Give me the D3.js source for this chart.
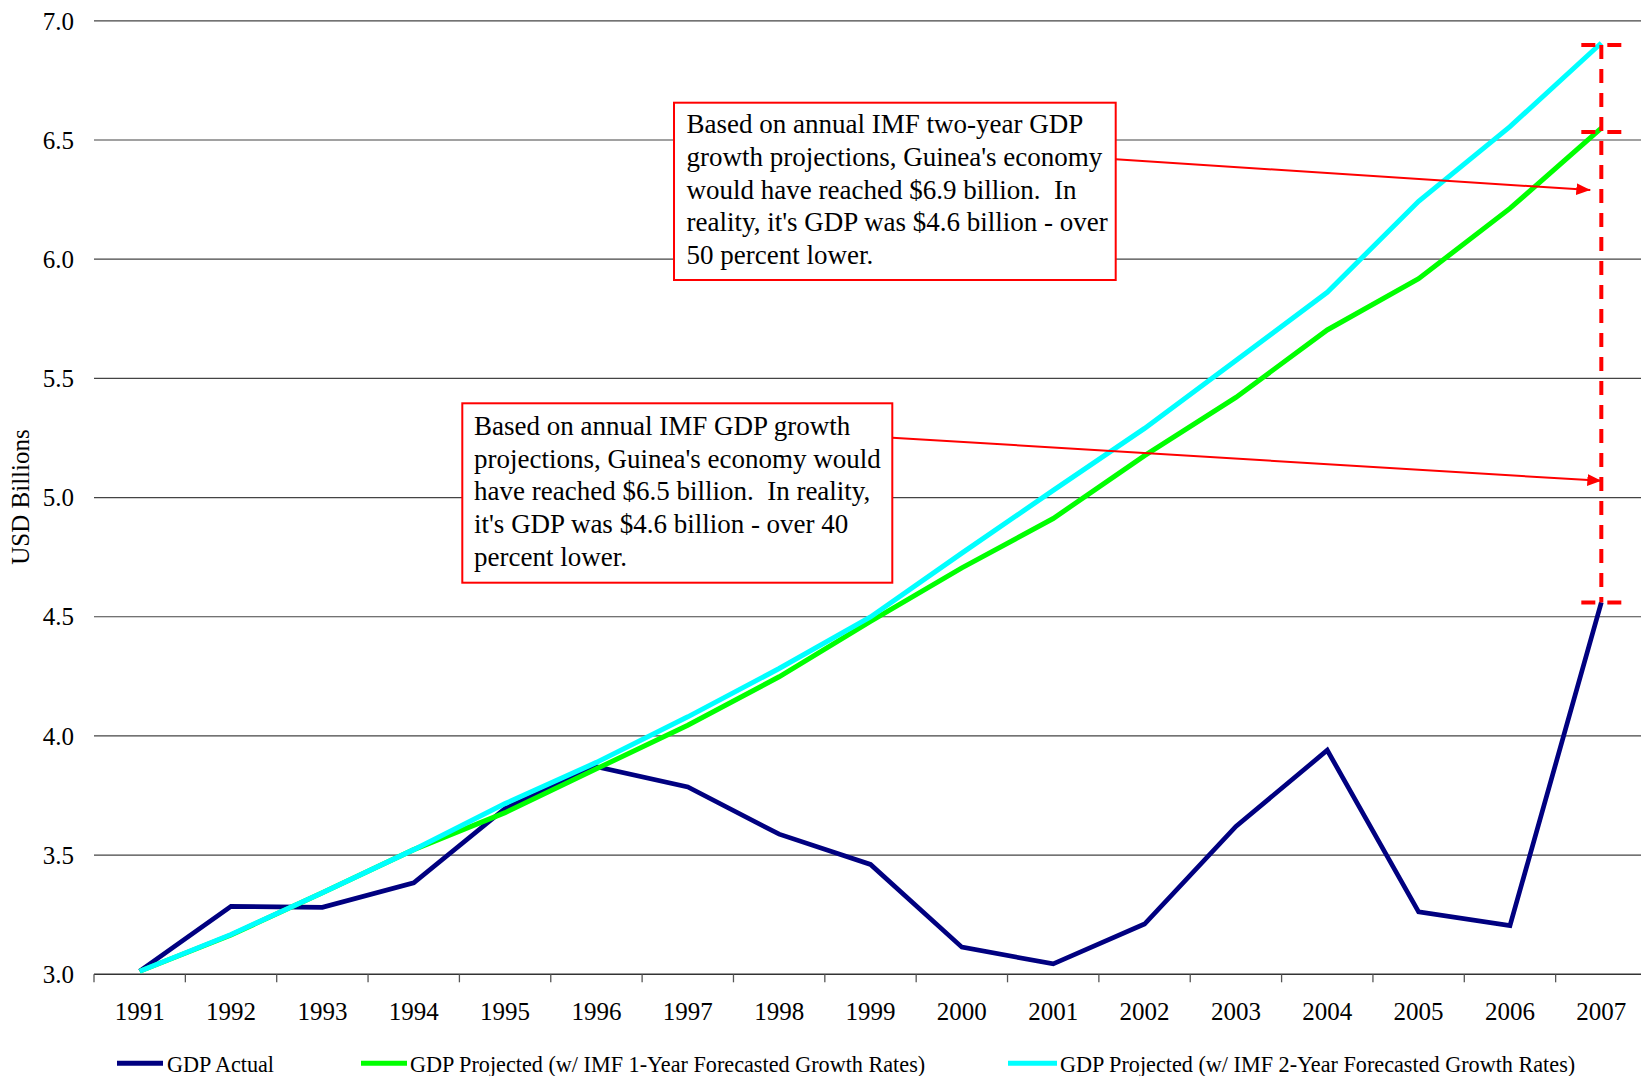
<!DOCTYPE html>
<html>
<head>
<meta charset="utf-8">
<script src="https://cdn.jsdelivr.net/npm/d3@7"></script>
<style>
  html, body { margin: 0; padding: 0; background: #fff; }
  svg { display: block; font-family: "Liberation Serif", "Times New Roman", serif; }
</style>
</head>
<body>
<svg id="chart" width="1641" height="1076"></svg>
<script>
// ---- Data ----
const years = [1991,1992,1993,1994,1995,1996,1997,1998,1999,2000,2001,2002,2003,2004,2005,2006,2007];
const gdpActual = [3.013,3.285,3.281,3.384,3.696,3.871,3.786,3.588,3.461,3.114,3.044,3.211,3.620,3.940,3.262,3.204,4.560];
const gdpProj1 = [3.013,3.165,3.342,3.523,3.678,3.862,4.045,4.248,4.481,4.705,4.912,5.176,5.420,5.703,5.918,6.213,6.550];
const gdpProj2 = [3.013,3.167,3.342,3.523,3.716,3.889,4.080,4.283,4.499,4.767,5.030,5.290,5.575,5.861,6.243,6.556,6.907];
const yTicks = [3.0,3.5,4.0,4.5,5.0,5.5,6.0,6.5,7.0];
const seriesNames = ["GDP Actual","GDP Projected (w/ IMF 1-Year Forecasted Growth Rates)","GDP Projected (w/ IMF 2-Year Forecasted Growth Rates)"];
const note1 = ["Based on annual IMF two-year GDP","growth projections, Guinea's economy","would have reached $6.9 billion.  In","reality, it's GDP was $4.6 billion - over","50 percent lower."];
const note2 = ["Based on annual IMF GDP growth","projections, Guinea's economy would","have reached $6.5 billion.  In reality,","it's GDP was $4.6 billion - over 40","percent lower."];

// ---- Layout ----
const svg = d3.select("#chart");
const pLeft = 94, pRight = 1647, pTop = 20.8, pBottom = 974.3;
const x = d3.scaleBand().domain(years).range([pLeft, pRight]).padding(0);
const y = d3.scaleLinear().domain([3, 7]).range([pBottom, pTop]);
const cx = d => x(d) + x.bandwidth() / 2;

// gridlines
svg.append("g").selectAll("line").data(yTicks.filter(v => v > 3)).join("line")
  .attr("x1", pLeft).attr("x2", pRight)
  .attr("y1", d => y(d)).attr("y2", d => y(d))
  .attr("stroke", "#444").attr("stroke-width", 1.2);

// y labels
svg.append("g").selectAll("text").data(yTicks).join("text")
  .attr("x", 74).attr("y", d => y(d)).attr("dy", "0.35em")
  .attr("text-anchor", "end").attr("font-size", 25).attr("fill", "#000")
  .text(d => d.toFixed(1));

// x axis line
svg.append("line").attr("x1", pLeft).attr("x2", pRight)
  .attr("y1", y(3)).attr("y2", y(3)).attr("stroke", "#333").attr("stroke-width", 1.5);
// ticks at band boundaries
const bounds = years.map(d => x(d)).concat([pRight]);
svg.append("g").selectAll("line").data(bounds).join("line")
  .attr("x1", d => d).attr("x2", d => d)
  .attr("y1", y(3)).attr("y2", y(3) + 8)
  .attr("stroke", "#555").attr("stroke-width", 1.3);
// x labels
const xAxis = d3.axisBottom(x).tickSize(0).tickPadding(0);
const gx = svg.append("g").attr("transform", `translate(0,${y(3)})`).call(xAxis);
gx.select(".domain").remove();
gx.selectAll("text").attr("font-size", 25).attr("font-family", "Liberation Serif")
  .attr("fill", "#000").attr("dy", 0).attr("y", 46);

// y axis title
svg.append("text").attr("transform", `translate(29,497) rotate(-90)`)
  .attr("text-anchor", "middle").attr("font-size", 25).attr("fill", "#000")
  .text("USD Billions");

// ---- Lines ----
const line = d3.line().x((d, i) => cx(years[i])).y(d => y(d));
const colors = ["#000080", "#00ff00", "#00ffff"];
[gdpActual, gdpProj1, gdpProj2].forEach((s, k) => {
  svg.append("path").datum(s).attr("d", line)
    .attr("fill", "none").attr("stroke", colors[k])
    .attr("stroke-width", k === 0 ? 4.7 : 5).attr("stroke-linejoin", "miter");
});

// ---- Dashed range marker at 2007 ----
const last = years.length - 1;
const xm = cx(years[last]);
svg.append("line").attr("x1", xm).attr("x2", xm)
  .attr("y1", y(gdpProj2[last]) + 2).attr("y2", y(gdpActual[last]))
  .attr("stroke", "#ff0000").attr("stroke-width", 4).attr("stroke-dasharray", "14,10");
[[gdpProj2[last], 2], [gdpProj1[last], 4], [gdpActual[last], 0]].forEach(([v, off]) => {
  svg.append("line").attr("x1", xm - 20).attr("x2", xm + 20)
    .attr("y1", y(v) + off).attr("y2", y(v) + off)
    .attr("stroke", "#ff0000").attr("stroke-width", 4).attr("stroke-dasharray", "14,12");
});

// ---- Annotations ----
const defs = svg.append("defs");
defs.append("marker").attr("id", "arr").attr("viewBox", "0 0 14 12")
  .attr("refX", 14).attr("refY", 6).attr("markerWidth", 14).attr("markerHeight", 12)
  .attr("markerUnits", "userSpaceOnUse").attr("orient", "auto")
  .append("path").attr("d", "M0,0 L14,6 L0,12 Z").attr("fill", "#ff0000");

function note(lines, bx, by, bw, bh, tx, ty, ax, ay, px, py) {
  svg.append("line").attr("x1", ax).attr("y1", ay).attr("x2", px).attr("y2", py)
    .attr("stroke", "#ff0000").attr("stroke-width", 2).attr("marker-end", "url(#arr)");
  svg.append("rect").attr("x", bx).attr("y", by).attr("width", bw).attr("height", bh)
    .attr("fill", "#fff").attr("stroke", "#ff0000").attr("stroke-width", 2);
  svg.append("g").selectAll("text").data(lines).join("text")
    .attr("x", tx).attr("y", (d, i) => ty + i * 32.7)
    .attr("font-size", 27).attr("fill", "#000")
    .style("white-space", "pre").text(d => d);
}
note(note1, 674, 102.7, 441.7, 177.3, 686.5, 133.3, 1115.7, 159.3, xm - 11, y(6.29));
note(note2, 462.3, 403.3, 430, 179.4, 474, 435, 892.3, 437.7, xm, y(5.07));

// ---- Legend ----
const legend = [
  {x1: 117, x2: 163, tx: 167},
  {x1: 361, x2: 407, tx: 410},
  {x1: 1008, x2: 1057, tx: 1060}
];
legend.forEach((l, k) => {
  svg.append("line").attr("x1", l.x1).attr("x2", l.x2).attr("y1", 1063.3).attr("y2", 1063.3)
    .attr("stroke", colors[k]).attr("stroke-width", 5);
  svg.append("text").attr("x", l.tx).attr("y", 1071.5).attr("font-size", 22.2)
    .attr("fill", "#000").text(seriesNames[k]);
});
</script>
</body>
</html>
